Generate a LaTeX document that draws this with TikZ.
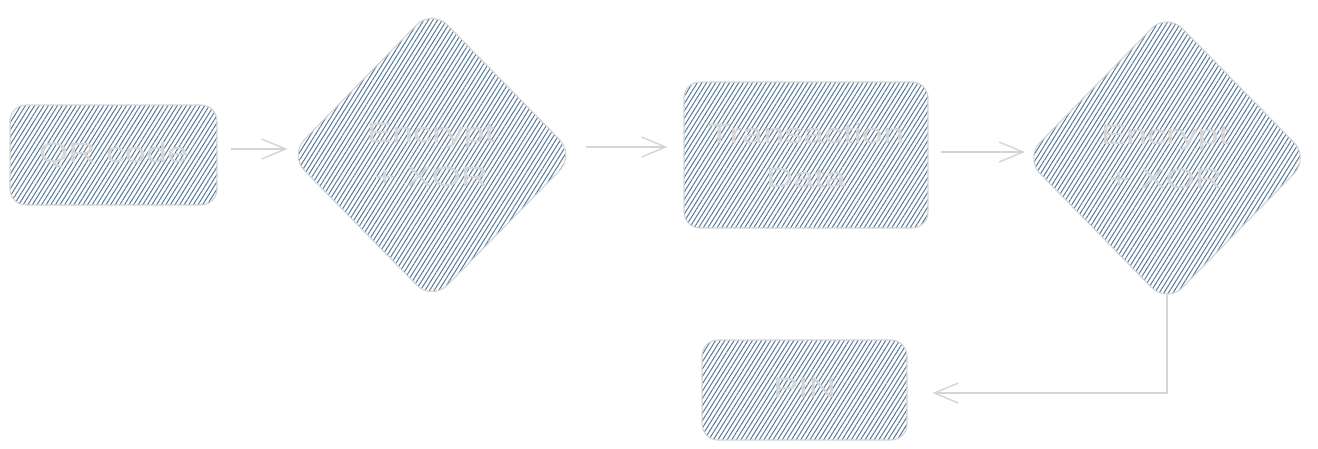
\documentclass[tikz,border=0pt]{standalone}
\usepackage{fontspec}
\newfontfamily\handfont[FakeStretch=1.35]{Liberation Sans}
\usetikzlibrary{shapes.geometric,patterns.meta,arrows.meta}
\definecolor{hatch}{HTML}{56799A}
\definecolor{edge}{HTML}{D4D4D4}
\definecolor{txt}{HTML}{D6D6D6}
\tikzset{
  hatched/.style={draw=edge, line width=1.1pt,
    pattern={Lines[angle=58,distance=3.9pt,line width=1pt]}, pattern color=hatch},
  label/.style={text=txt, font=\handfont\fontsize{28}{44}\selectfont, align=center},
  boxnode/.style={hatched, rounded corners=16pt, inner sep=0pt},
  decision/.style={hatched, diamond, rounded corners=22pt, inner sep=0pt},
  arr/.style={draw=edge, line width=1.4pt, -{Straight Barb[length=24pt,width=20pt,line width=1.4pt]}}
}
\begin{document}
\begin{tikzpicture}[x=1pt,y=-1pt]
\useasboundingbox (0,0) rectangle (1318,448);
\node[boxnode, minimum width=207pt, minimum height=100pt] (qr) at (113.5,155) {};
\node[decision, minimum width=286pt, minimum height=292pt] (enc1) at (432,155) {};
\node[boxnode, minimum width=244pt, minimum height=146pt] (td) at (806,155) {};
\node[decision, minimum width=285pt, minimum height=291pt] (enc2) at (1167,158) {};
\node[boxnode, minimum width=205pt, minimum height=100pt] (pin) at (804.5,390) {};

\node[label] (qrt) at (qr.center) {QR code};
\node[label] (enc1t) at (431,155) {Encrypt\\+ XOR};
\node[label] (tdt) at (806,155) {Transaction\\Data};
\node[label] (enc2t) at (1165,157) {Encrypt\\+ XOR};
\node[label] (pint) at (804.5,388) {PIN};

\draw[arr] ([xshift=13pt,yshift=6pt]qr.east) -- ([xshift=-1pt,yshift=6pt]enc1.west);
\draw[arr] ([xshift=10pt,yshift=8pt]enc1.east) -- ([xshift=-16pt,yshift=8pt]td.west);
\draw[arr] ([xshift=12pt,yshift=3pt]td.east) -- ([xshift=1pt,yshift=6pt]enc2.west);
\draw[arr] ([yshift=9pt]enc2.south) |- ([xshift=25pt,yshift=-3pt]pin.east);
\end{tikzpicture}
\end{document}
